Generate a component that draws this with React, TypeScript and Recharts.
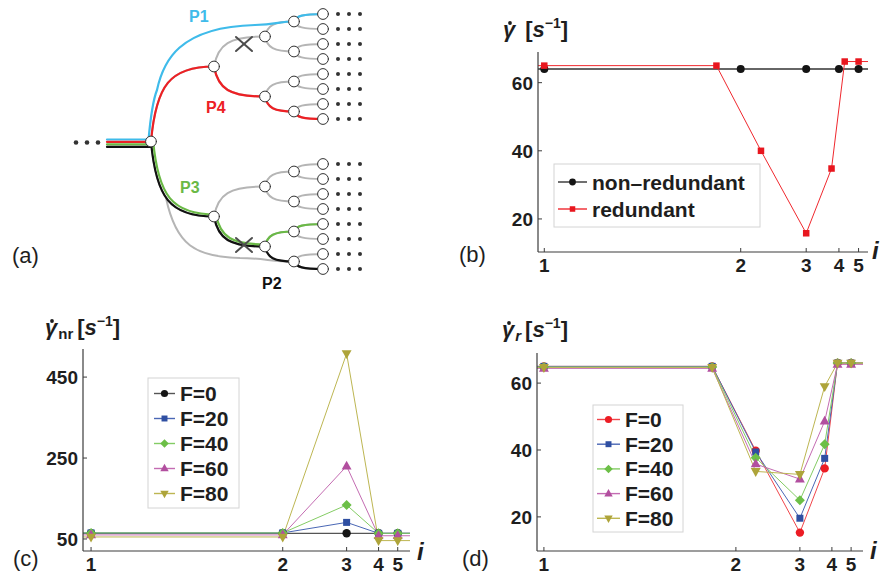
import React from 'react';
import { LineChart, Line, XAxis, YAxis } from 'recharts';

const FONT = '"Liberation Sans", Arial, Helvetica, sans-serif';
const INK = '#1e1e1e';
const AXIS = '#3c3c3c';

// generation index i on the x axes (axis is linear in 1 - 1/i)
const GEN_TICKS = [1, 2, 3, 4, 5];
// positions (in generation units) of the sampled points
const POS_NR = [1, 2, 3, 4, 5];
const POS_R = [1, 1.78, 2.23, 3, 3.72, 4.25, 5];

// (b) shear rate along both branch types, no flow perturbation
const B_NONRED = [64, 64, 64, 64, 64];
const B_RED = [65, 65, 40, 15.8, 34.8, 66.2, 66.2];
const B_LABELS = ['non\u2013redundant', 'redundant'];

// (c) non-redundant branch for several F
const C_F0 = [64, 64, 64, 64, 64];
const C_F20 = [65, 65, 91, 64, 64];
const C_F40 = [65, 65, 134, 64, 64];
const C_F60 = [60, 60, 230, 58, 58];
const C_F80 = [55, 55, 508, 46, 46];

// (d) redundant branch for several F
const D_F0 = [65, 65, 39.8, 15.3, 34.5, 66, 66];
const D_F20 = [65, 65, 39.4, 19.6, 37.5, 66, 66];
const D_F40 = [64.8, 64.8, 37.7, 25, 41.7, 66, 66];
const D_F60 = [64.4, 64.4, 35.8, 31.3, 48.6, 65.6, 65.6];
const D_F80 = [64.7, 64.7, 33.6, 32.7, 59, 66, 66];

const F_LABELS = ['F=0', 'F=20', 'F=40', 'F=60', 'F=80'];

const B_YTICKS = [20, 40, 60];
const C_YTICKS = [50, 250, 450];
const D_YTICKS = [20, 40, 60];

const toU = (i: number) => 1 - 1 / i;

type Shape = 'circle' | 'square' | 'diamond' | 'up' | 'down';

interface Style {
  shape: Shape;
  size: number;
  fill: string;
  stroke: string;
  width: number;
}

const RED: Style = { shape: 'circle', size: 4.2, fill: '#ec1c24', stroke: '#f0454a', width: 1 };
const BLUE: Style = { shape: 'square', size: 7, fill: '#2f4fa2', stroke: '#4a67b5', width: 1 };
const GREEN: Style = { shape: 'diamond', size: 5, fill: '#6cbf47', stroke: '#84cc64', width: 1 };
const MAGENTA: Style = { shape: 'up', size: 5.5, fill: '#b24f9f', stroke: '#c46cb2', width: 1 };
const OLIVE: Style = { shape: 'down', size: 5.5, fill: '#aea43a', stroke: '#bdb652', width: 1 };
const BLACK: Style = { shape: 'circle', size: 4.2, fill: '#151515', stroke: '#555555', width: 1.2 };

const buildSeries = (pos: number[], vals: number[], xDomain: number[]) => [
  { u: xDomain[0], v: vals[0], edge: true },
  ...pos.map((p, k) => ({ u: toU(p), v: vals[k], edge: false })),
  { u: xDomain[1], v: vals[vals.length - 1], edge: true },
];

const Marker = ({ shape, x, y, s, fill }: { shape: Shape; x: number; y: number; s: number; fill: string }) => {
  if (shape === 'circle') return <circle cx={x} cy={y} r={s} fill={fill} />;
  if (shape === 'square') return <rect x={x - s / 2} y={y - s / 2} width={s} height={s} fill={fill} />;
  if (shape === 'diamond') {
    return <polygon points={`${x},${y - s} ${x + s},${y} ${x},${y + s} ${x - s},${y}`} fill={fill} />;
  }
  if (shape === 'up') {
    return <polygon points={`${x},${y - s} ${x + s * 0.9},${y + s * 0.6} ${x - s * 0.9},${y + s * 0.6}`} fill={fill} />;
  }
  return <polygon points={`${x},${y + s} ${x + s * 0.9},${y - s * 0.6} ${x - s * 0.9},${y - s * 0.6}`} fill={fill} />;
};

const XTick = (props: any) => {
  const { x, y, payload, gap } = props;
  const gen = GEN_TICKS.find(g => Math.abs(toU(g) - payload.value) < 1e-6);
  return (
    <g>
      <line x1={x} x2={x} y1={y} y2={y - 4} stroke={AXIS} strokeWidth={1} />
      <text x={x} y={y + gap} textAnchor="middle" fontFamily={FONT} fontSize={19} fontWeight="bold" fill={INK}>
        {gen}
      </text>
    </g>
  );
};

const YTick = (props: any) => {
  const { x, y, payload } = props;
  return (
    <g>
      <line x1={x} x2={x + 4} y1={y} y2={y} stroke={AXIS} strokeWidth={1} />
      <text x={x - 5} y={y + 7} textAnchor="end" fontFamily={FONT} fontSize={19} fontWeight="bold" fill={INK}>
        {payload.value}
      </text>
    </g>
  );
};

interface SeriesSpec {
  name: string;
  data: { u: number; v: number; edge: boolean }[];
  style: Style;
}

interface PanelProps {
  left: number;
  top: number;
  width: number;
  height: number;
  margin: { top: number; right: number; bottom: number; left: number };
  xDomain: number[];
  yDomain: number[];
  yTicks: number[];
  gap: number;
  series: SeriesSpec[];
}

const ShearPanel = ({ left, top, width, height, margin, xDomain, yDomain, yTicks, gap, series }: PanelProps) => (
  <div style={{ position: 'absolute', left, top }}>
    <LineChart width={width} height={height} margin={margin}>
      <XAxis
        type="number"
        dataKey="u"
        domain={xDomain}
        allowDataOverflow
        ticks={GEN_TICKS.map(toU)}
        interval={0}
        height={24}
        tickSize={0}
        tickMargin={0}
        tickLine={false}
        axisLine={{ stroke: AXIS, strokeWidth: 1.2 }}
        tick={<XTick gap={gap} />}
      />
      <YAxis
        type="number"
        domain={yDomain}
        allowDataOverflow
        ticks={yTicks}
        interval={0}
        width={60}
        tickSize={0}
        tickMargin={0}
        tickLine={false}
        axisLine={{ stroke: AXIS, strokeWidth: 1.2 }}
        tick={<YTick />}
      />
      {series.map(s => (
        <Line
          key={s.name}
          data={s.data}
          dataKey="v"
          type="linear"
          stroke={s.style.stroke}
          strokeWidth={s.style.width}
          isAnimationActive={false}
          activeDot={false}
          dot={(p: any) =>
            p.payload?.edge || p.cx == null ? (
              <g key={`${s.name}-e-${p.index}`} />
            ) : (
              <Marker
                key={`${s.name}-${p.index}`}
                shape={s.style.shape}
                x={p.cx}
                y={p.cy}
                s={s.style.size}
                fill={s.style.fill}
              />
            )
          }
        />
      ))}
    </LineChart>
  </div>
);

// ---------- panel (a): the branching network ----------
const DEPTH_X = [151, 214, 265, 294, 323];
const LEAF_TOP = 14;
const LEAF_STEP = 15;
const HALF_GAP = 30;
const TREE_GRAY = '#b5b5b5';
const P1_COLOR = '#3fbbea';
const P4_COLOR = '#ed2024';
const P3_COLOR = '#6ab946';
const P2_COLOR = '#111111';

const leafY = (k: number) => LEAF_TOP + k * LEAF_STEP + (k >= 8 ? HALF_GAP : 0);
const nodePos = (d: number, k: number) => {
  const span = 2 ** (4 - d);
  let s = 0;
  for (let j = k * span; j < (k + 1) * span; j++) s += leafY(j);
  return { x: DEPTH_X[d], y: s / span };
};
const edgePath = (a: { x: number; y: number }, b: { x: number; y: number }) => {
  const dx = b.x - a.x;
  const dy = b.y - a.y;
  return `M${a.x},${a.y} C${a.x + 0.08 * dx},${a.y + 0.75 * dy} ${a.x + 0.3 * dx},${b.y} ${b.x},${b.y}`;
};
const routePath = (route: number[][]) =>
  route.slice(1).map((n, i) => edgePath(nodePos(route[i][0], route[i][1]), nodePos(n[0], n[1]))).join(' ');

const P4_ROUTE = [[0, 0], [1, 0], [2, 1], [3, 3], [4, 7]];
const P3_SHARED = [[0, 0], [1, 1], [2, 3]];
const P3_ROUTE = [[2, 3], [3, 6], [4, 12]];
const P2_ROUTE = [[0, 0], [1, 1], [2, 3], [3, 7], [4, 15]];
const P1_ROUTE = [[3, 0], [4, 0]];

const Cross = ({ x, y }: { x: number; y: number }) => (
  <g stroke="#4d4d4d" strokeWidth={2}>
    <line x1={x - 8} y1={y - 7} x2={x + 8} y2={y + 7} />
    <line x1={x - 8} y1={y + 7} x2={x + 8} y2={y - 7} />
  </g>
);

const Tree = () => {
  const grayEdges: string[] = [];
  for (let d = 0; d < 4; d++) {
    for (let k = 0; k < 2 ** d; k++) {
      const a = nodePos(d, k);
      grayEdges.push(edgePath(a, nodePos(d + 1, 2 * k)), edgePath(a, nodePos(d + 1, 2 * k + 1)));
    }
  }
  const nodes: { x: number; y: number }[] = [];
  for (let d = 0; d <= 4; d++) for (let k = 0; k < 2 ** d; k++) nodes.push(nodePos(d, k));
  const leaves = nodes.filter(n => n.x === DEPTH_X[4]);
  const root = nodePos(0, 0);
  return (
    <g fill="none" strokeLinecap="round">
      {grayEdges.map((p, i) => (
        <path key={i} d={p} stroke={TREE_GRAY} strokeWidth={2} />
      ))}
      <path d="M166,198 C176,245 195,257 240,258 C262,258 275,262 294,261.5" stroke={TREE_GRAY} strokeWidth={2} />
      {/* incoming bundle */}
      <line x1={107} x2={root.x} y1={139.5} y2={139.5} stroke={P1_COLOR} strokeWidth={2.2} />
      <line x1={107} x2={root.x} y1={141.9} y2={141.9} stroke={P4_COLOR} strokeWidth={2.2} />
      <line x1={107} x2={root.x} y1={144.4} y2={144.4} stroke={P3_COLOR} strokeWidth={2.2} />
      <line x1={107} x2={root.x} y1={146.9} y2={146.9} stroke={P2_COLOR} strokeWidth={2.2} />
      <path d={routePath(P2_ROUTE)} stroke={P2_COLOR} strokeWidth={2.2} />
      <path d={routePath(P3_SHARED)} stroke={P3_COLOR} strokeWidth={2.2} transform="translate(2,-2)" />
      <path d={routePath(P3_ROUTE)} stroke={P3_COLOR} strokeWidth={2.2} />
      <path d={routePath(P4_ROUTE)} stroke={P4_COLOR} strokeWidth={2.2} />
      <path
        d="M148.5,140 C151,112 153,100 157,90 C163,62 178,27 255,25 C276,24.5 280,21.5 294,21.5"
        stroke={P1_COLOR}
        strokeWidth={2.2}
      />
      <path d={routePath(P1_ROUTE)} stroke={P1_COLOR} strokeWidth={2.2} />
      <Cross x={244} y={44} />
      <Cross x={244} y={245} />
      {nodes.map((n, i) => (
        <circle key={i} cx={n.x} cy={n.y} r={5.4} fill="#fff" stroke="#333" strokeWidth={1} />
      ))}
      {[76, 87, 98].map(x => (
        <circle key={x} cx={x} cy={root.y + 1} r={2.3} fill="#333" stroke="none" />
      ))}
      {leaves.map((n, i) =>
        [338, 349, 360].map(x => <circle key={`${i}-${x}`} cx={x} cy={n.y} r={2} fill="#333" stroke="none" />),
      )}
      <g fontFamily={FONT} fontSize={16} fontWeight="bold" stroke="none">
        <text x={189} y={22} fill={P1_COLOR}>P1</text>
        <text x={206} y={113} fill={P4_COLOR}>P4</text>
        <text x={180} y={193} fill={P3_COLOR}>P3</text>
        <text x={262} y={289} fill={P2_COLOR}>P2</text>
      </g>
    </g>
  );
};

// gamma with an over-dot (drawn as a small disc), then optional subscript and the unit
const AxisTitle = ({ x, y, sub, subItalic }: { x: number; y: number; sub?: string; subItalic?: boolean }) => (
  <g>
    <circle cx={x + 7} cy={y - 14} r={1.9} fill={INK} />
    <text x={x} y={y} fontFamily={FONT} fontSize={22} fontWeight="bold" fill={INK}>
      <tspan fontStyle="italic">{'\u03B3'}</tspan>
      {sub ? (
        <tspan fontSize={15} dx={1} dy={4} fontStyle={subItalic ? 'italic' : 'normal'}>{sub}</tspan>
      ) : null}
      <tspan dx={sub ? 4 : 10} dy={sub ? -4 : 0}>[</tspan>
      <tspan fontStyle="italic">s</tspan>
      <tspan fontSize={14} dy={-9}>{'\u22121'}</tspan>
      <tspan dy={9}>]</tspan>
    </text>
  </g>
);

interface LegendProps {
  box: number[];
  lineX: number[];
  textX: number;
  rowY: number;
  step: number;
  labels: string[];
  styles: Style[];
}

const LegendBox = ({ box, lineX, textX, rowY, step, labels, styles }: LegendProps) => (
  <g>
    <rect x={box[0]} y={box[1]} width={box[2]} height={box[3]} fill="#fff" stroke="#d4d4d4" strokeWidth={1} />
    {labels.map((label, i) => {
      const y = rowY + i * step;
      const st = styles[i];
      const mid = (lineX[0] + lineX[1]) / 2;
      return (
        <g key={label}>
          <line x1={lineX[0]} x2={lineX[1]} y1={y} y2={y} stroke={st.stroke} strokeWidth={1.4} />
          <Marker shape={st.shape} x={mid} y={y} s={st.size * 0.85} fill={st.fill} />
          <text x={textX} y={y + 7.5} fontFamily={FONT} fontSize={21} fontWeight="bold" fill={INK}>
            {label}
          </text>
        </g>
      );
    })}
  </g>
);

const B_X = [-0.016, 0.824];
const B_Y = [10.3, 69];
const C_X = [-0.021, 0.832];
const C_Y = [20.3, 519.4];
const D_X = [-0.018, 0.831];
const D_Y = [9.8, 69];

const B_STYLES: Style[] = [
  { shape: 'circle', size: 4, fill: '#141414', stroke: '#333333', width: 1.4 },
  { shape: 'square', size: 6.5, fill: '#e8161e', stroke: '#f0282e', width: 1 },
];
const C_STYLES: Style[] = [BLACK, BLUE, GREEN, MAGENTA, OLIVE];
const D_STYLES: Style[] = [RED, BLUE, GREEN, MAGENTA, OLIVE];

export default function App() {
  const bSeries: SeriesSpec[] = [
    { name: 'nr', data: buildSeries(POS_NR, B_NONRED, B_X), style: B_STYLES[0] },
    { name: 'r', data: buildSeries(POS_R, B_RED, B_X), style: B_STYLES[1] },
  ];
  const cSeries: SeriesSpec[] = [C_F0, C_F20, C_F40, C_F60, C_F80].map((vals, i) => ({
    name: F_LABELS[i],
    data: buildSeries(POS_NR, vals, C_X),
    style: C_STYLES[i],
  }));
  const dSeries: SeriesSpec[] = [D_F0, D_F20, D_F40, D_F60, D_F80].map((vals, i) => ({
    name: F_LABELS[i],
    data: buildSeries(POS_R, vals, D_X),
    style: D_STYLES[i],
  }));

  return (
    <div style={{ position: 'absolute', left: 0, top: 0, width: 884, height: 575, background: '#fff', overflow: 'hidden' }}>
      <ShearPanel
        left={470}
        top={0}
        width={414}
        height={290}
        margin={{ top: 52, right: 16, bottom: 14, left: 8 }}
        xDomain={B_X}
        yDomain={B_Y}
        yTicks={B_YTICKS}
        gap={20}
        series={bSeries}
      />
      <ShearPanel
        left={0}
        top={290}
        width={440}
        height={285}
        margin={{ top: 59, right: 30, bottom: 0, left: 23 }}
        xDomain={C_X}
        yDomain={C_Y}
        yTicks={C_YTICKS}
        gap={20}
        series={cSeries}
      />
      <ShearPanel
        left={440}
        top={290}
        width={444}
        height={285}
        margin={{ top: 63, right: 21, bottom: 0, left: 37 }}
        xDomain={D_X}
        yDomain={D_Y}
        yTicks={D_YTICKS}
        gap={20}
        series={dSeries}
      />
      <svg width={884} height={575} style={{ position: 'absolute', left: 0, top: 0, pointerEvents: 'none' }}>
        <Tree />
        <LegendBox
          box={[554, 164, 206, 63]}
          lineX={[558, 587]}
          textX={592}
          rowY={182}
          step={27}
          labels={B_LABELS}
          styles={B_STYLES}
        />
        <LegendBox
          box={[148, 378, 91, 130]}
          lineX={[154, 175]}
          textX={180}
          rowY={393.5}
          step={25}
          labels={F_LABELS}
          styles={C_STYLES}
        />
        <LegendBox
          box={[593, 405, 90, 127]}
          lineX={[597, 620]}
          textX={625}
          rowY={419.5}
          step={24.7}
          labels={F_LABELS}
          styles={D_STYLES}
        />
        <AxisTitle x={503} y={37} />
        <AxisTitle x={45} y={335} sub="nr" />
        <AxisTitle x={502} y={337} sub="r" subItalic />
        <g fontFamily={FONT} fontSize={24} fontWeight="bold" fontStyle="italic" fill={INK}>
          <text x={872} y={259}>i</text>
          <text x={417} y={560}>i</text>
          <text x={870} y={559}>i</text>
        </g>
        <g fontFamily={FONT} fontSize={22} fill={INK}>
          <text x={12} y={263}>(a)</text>
          <text x={459} y={262}>(b)</text>
          <text x={13} y={566}>(c)</text>
          <text x={462} y={566}>(d)</text>
        </g>
      </svg>
    </div>
  );
}
